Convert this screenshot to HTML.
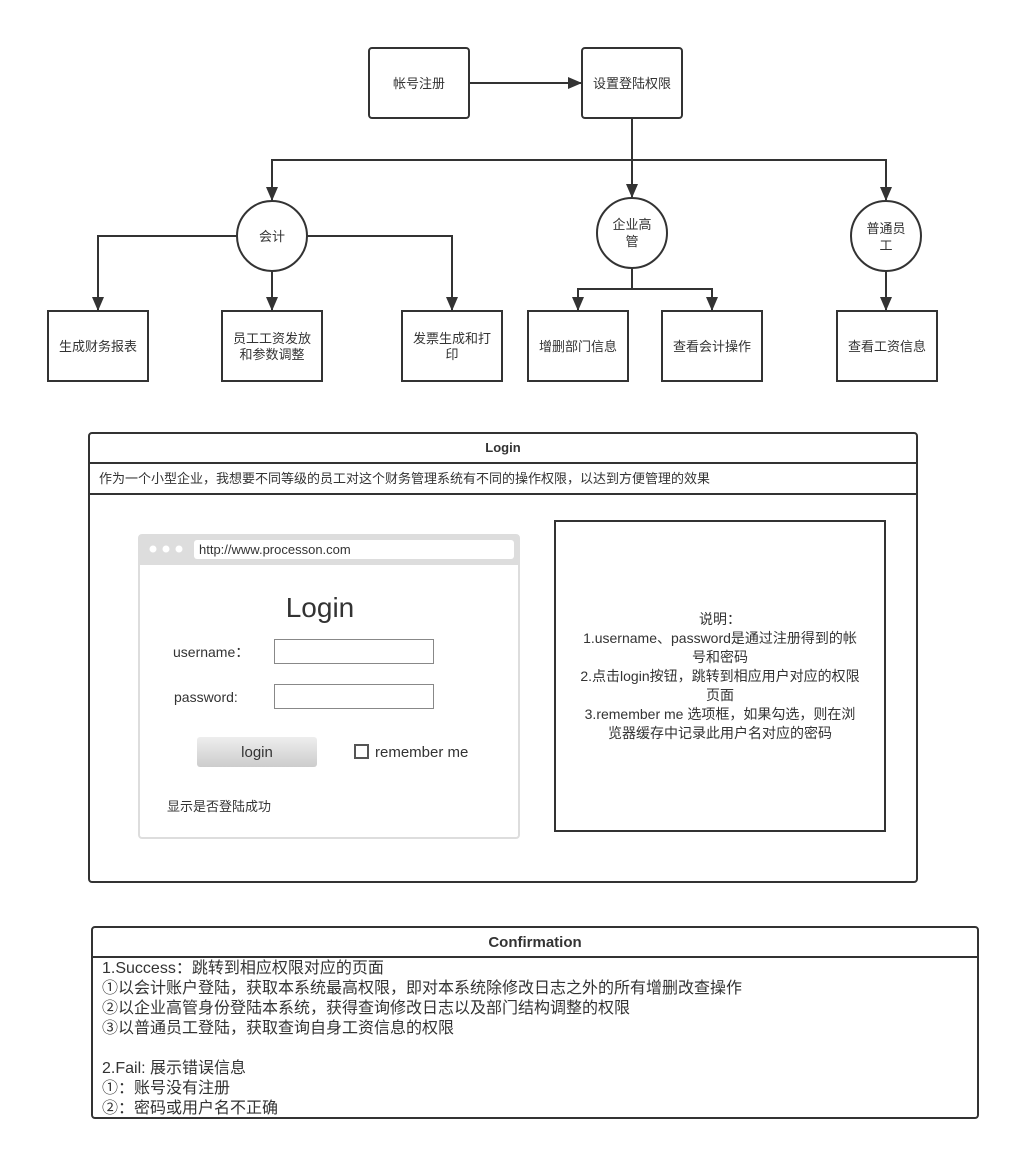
<!DOCTYPE html>
<html><head><meta charset="utf-8"><style>
body{margin:0;background:#fff;width:1010px;height:1150px;overflow:hidden;font-family:"Liberation Sans","Noto Sans CJK SC",sans-serif;}
svg text{font-family:"Liberation Sans","Noto Sans CJK SC",sans-serif;fill:#333;}
</style></head><body>
<svg width="1010" height="1150" viewBox="0 0 1010 1150" xmlns="http://www.w3.org/2000/svg">
<defs><marker id="a" markerWidth="14" markerHeight="12" refX="13" refY="6" orient="auto" markerUnits="userSpaceOnUse"><path d="M0,0 L14,6 L0,12 Z" fill="#333"/></marker>
<linearGradient id="g" x1="0" y1="0" x2="0" y2="1"><stop offset="0" stop-color="#eee"/><stop offset="1" stop-color="#ccc"/></linearGradient></defs>
<g stroke="#333" stroke-width="2" fill="none">
<rect x="369" y="48" width="100" height="70" rx="3" fill="#fff"/>
<rect x="582" y="48" width="100" height="70" rx="3" fill="#fff"/>
<line x1="469" y1="83" x2="581" y2="83" marker-end="url(#a)"/>
<line x1="632" y1="118" x2="632" y2="197" marker-end="url(#a)"/>
<polyline points="272,199 272,160 886,160 886,199"/>
<line x1="272" y1="165" x2="272" y2="200" marker-end="url(#a)"/>
<line x1="886" y1="165" x2="886" y2="200" marker-end="url(#a)"/>
<circle cx="272" cy="236" r="35" fill="#fff"/>
<circle cx="632" cy="233" r="35" fill="#fff"/>
<circle cx="886" cy="236" r="35" fill="#fff"/>
<polyline points="237,236 98,236 98,310" marker-end="url(#a)"/>
<polyline points="307,236 452,236 452,310" marker-end="url(#a)"/>
<line x1="272" y1="271" x2="272" y2="310" marker-end="url(#a)"/>
<line x1="632" y1="268" x2="632" y2="289"/>
<polyline points="632,289 578,289 578,310" marker-end="url(#a)"/>
<polyline points="632,289 712,289 712,310" marker-end="url(#a)"/>
<line x1="886" y1="271" x2="886" y2="310" marker-end="url(#a)"/>
<rect x="48" y="311" width="100" height="70"/>
<rect x="222" y="311" width="100" height="70"/>
<rect x="402" y="311" width="100" height="70"/>
<rect x="528" y="311" width="100" height="70"/>
<rect x="662" y="311" width="100" height="70"/>
<rect x="837" y="311" width="100" height="70"/>
<rect x="89" y="433" width="828" height="449" rx="3"/>
<line x1="89" y1="463" x2="917" y2="463"/>
<line x1="89" y1="494" x2="917" y2="494"/>
<rect x="555" y="521" width="330" height="310"/>
<rect x="92" y="927" width="886" height="191" rx="3"/>
<line x1="92" y1="957" x2="978" y2="957"/>
</g>
<g font-size="13" text-anchor="middle">
<text x="419" y="88">帐号注册</text>
<text x="632" y="88">设置登陆权限</text>
<text x="272" y="241">会计</text>
<text x="632" y="229">企业高</text><text x="632" y="246">管</text>
<text x="886" y="233">普通员</text><text x="886" y="250">工</text>
<text x="98" y="351">生成财务报表</text>
<text x="272" y="343">员工工资发放</text><text x="272" y="359">和参数调整</text>
<text x="452" y="343">发票生成和打</text><text x="452" y="359">印</text>
<text x="578" y="351">增删部门信息</text>
<text x="712" y="351">查看会计操作</text>
<text x="887" y="351">查看工资信息</text>
</g>
<text x="503" y="452" font-size="13" font-weight="bold" text-anchor="middle">Login</text>
<text x="99" y="483" font-size="13">作为一个小型企业，我想要不同等级的员工对这个财务管理系统有不同的操作权限，以达到方便管理的效果</text>
<rect x="139" y="535" width="380" height="303" rx="3" fill="#fff" stroke="#ddd" stroke-width="2"/>
<rect x="139" y="535" width="380" height="30" fill="#ddd"/>
<circle cx="153" cy="549" r="3.5" fill="#fff"/><circle cx="166" cy="549" r="3.5" fill="#fff"/><circle cx="179" cy="549" r="3.5" fill="#fff"/>
<rect x="194" y="540" width="320" height="19" rx="3" fill="#fff"/>
<text x="199" y="554" font-size="13">http://www.processon.com</text>
<text x="320" y="617" font-size="28" text-anchor="middle">Login</text>
<text x="173" y="657" font-size="14">username：</text>
<text x="174" y="702" font-size="14">password:</text>
<rect x="274.5" y="639.5" width="159" height="24" fill="#fff" stroke="#888"/>
<rect x="274.5" y="684.5" width="159" height="24" fill="#fff" stroke="#888"/>
<rect x="197" y="737" width="120" height="30" rx="3" fill="url(#g)"/>
<text x="257" y="757" font-size="15" text-anchor="middle">login</text>
<rect x="355" y="745" width="13" height="13" fill="#fff" stroke="#555" stroke-width="2"/>
<text x="375" y="757" font-size="15">remember me</text>
<text x="167" y="811" font-size="13">显示是否登陆成功</text>
<g font-size="14" text-anchor="middle">
<text x="720" y="624">说明：</text>
<text x="720" y="643">1.username、password是通过注册得到的帐</text>
<text x="720" y="662">号和密码</text>
<text x="720" y="681">2.点击login按钮，跳转到相应用户对应的权限</text>
<text x="720" y="700">页面</text>
<text x="720" y="719">3.remember me 选项框，如果勾选，则在浏</text>
<text x="720" y="738">览器缓存中记录此用户名对应的密码</text>
</g>
<text x="535" y="947" font-size="15" font-weight="bold" text-anchor="middle">Confirmation</text>
<g font-size="16">
<text x="102" y="973">1.Success：跳转到相应权限对应的页面</text>
<text x="102" y="993">①以会计账户登陆，获取本系统最高权限，即对本系统除修改日志之外的所有增删改查操作</text>
<text x="102" y="1013">②以企业高管身份登陆本系统，获得查询修改日志以及部门结构调整的权限</text>
<text x="102" y="1033">③以普通员工登陆，获取查询自身工资信息的权限</text>
<text x="102" y="1073">2.Fail: 展示错误信息</text>
<text x="102" y="1093">①：账号没有注册</text>
<text x="102" y="1113">②：密码或用户名不正确</text>
</g>
</svg>
</body></html>
